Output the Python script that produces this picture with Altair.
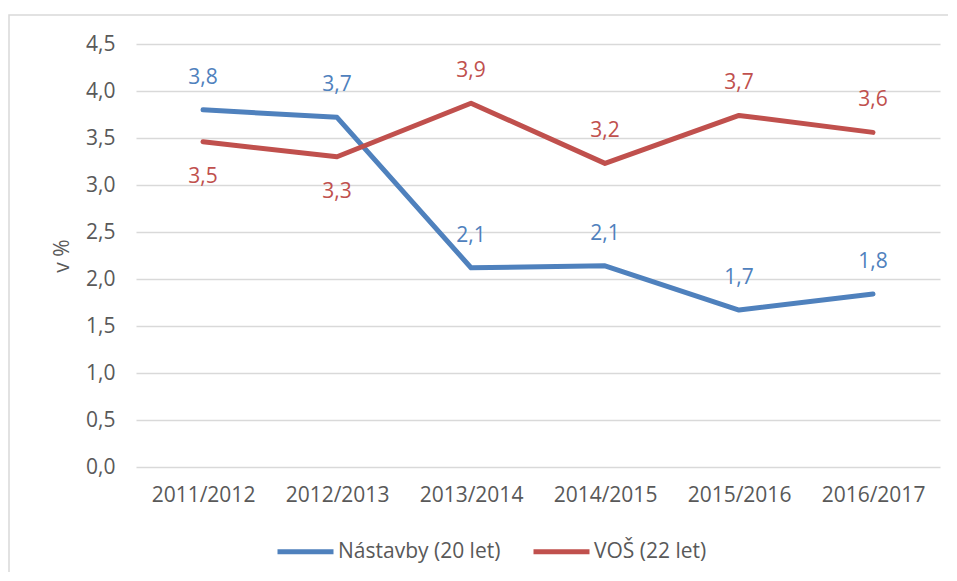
import altair as alt
import pandas as pd

years = ["2011/2012", "2012/2013", "2013/2014", "2014/2015", "2015/2016", "2016/2017"]
nastavby = [3.80, 3.72, 2.12, 2.14, 1.67, 1.84]
vos = [3.46, 3.30, 3.87, 3.23, 3.74, 3.56]
series_names = ["Nástavby (20 let)", "VOŠ (22 let)"]
vos_label_below = [True, True, False, False, False, False]
colors = ["#4F81BD", "#C0504D"]

rows = []
for i, yr in enumerate(years):
    rows.append(dict(year=yr, series=series_names[0], value=nastavby[i], below=False))
    rows.append(dict(year=yr, series=series_names[1], value=vos[i], below=vos_label_below[i]))
df = pd.DataFrame(rows)
df["label"] = df["value"].map(lambda v: f"{v:.1f}".replace(".", ","))

FONT = "Open Sans"
GRAY = "#595959"
FS = 21

color_scale = alt.Scale(domain=series_names, range=colors)
x_enc = alt.X("year:N", sort=years, scale=alt.Scale(type="point", padding=0.5),
              axis=alt.Axis(title=None, labelAngle=0, grid=False, ticks=False, domain=False,
                            labelPadding=17))
y_enc = alt.Y("value:Q", scale=alt.Scale(domain=[0, 4.5], nice=False),
              axis=alt.Axis(title="v %", values=[0, 0.5, 1, 1.5, 2, 2.5, 3, 3.5, 4, 4.5],
                            labelExpr="replace(format(datum.value, '.1f'), '.', ',')",
                            ticks=False, domain=False, labelPadding=21, titlePadding=13,
                            gridColor="#D9D9D9", gridWidth=1.5))

base = alt.Chart(df)

frame = alt.Chart(pd.DataFrame({"a": [0]})).mark_rect(
    fill=None, stroke="#D9D9D9", strokeWidth=1.5
).encode(x=alt.value(-127), x2=alt.value(900), y=alt.value(-29), y2=alt.value(700))

lines = base.mark_line(strokeWidth=5, strokeCap="round", strokeJoin="round").encode(
    x=x_enc, y=y_enc,
    color=alt.Color("series:N", scale=color_scale,
                    legend=alt.Legend(title=None, orient="none", legendX=139, legendY=477,
                                      direction="horizontal", symbolType="stroke",
                                      symbolSize=3136, symbolStrokeWidth=5,
                                      labelFont=FONT, labelFontSize=FS, labelColor=GRAY,
                                      labelLimit=400,
                                      columnPadding=22, labelOffset=2)),
    detail="series:N",
)

labels_above = base.transform_filter("!datum.below").mark_text(
    dy=-32, font=FONT, fontSize=FS
).encode(x=alt.X("year:N", sort=years), y="value:Q",
         text="label:N", color=alt.Color("series:N", scale=color_scale, legend=None))

labels_below = base.transform_filter("datum.below").mark_text(
    dy=35, font=FONT, fontSize=FS
).encode(x=alt.X("year:N", sort=years), y="value:Q",
         text="label:N", color=alt.Color("series:N", scale=color_scale, legend=None))

chart = alt.layer(frame, lines, labels_above, labels_below).properties(
    width=804, height=423,
    autosize=alt.AutoSizeParams(type="none"),
    padding={"left": 128, "top": 36, "right": 8, "bottom": 105},
).configure_view(stroke=None).configure_axis(
    labelFont=FONT, labelFontSize=FS, labelColor=GRAY,
    titleFont=FONT, titleFontSize=FS, titleColor=GRAY, titleFontWeight="normal",
)

chart.save("out.html", embed_options={"renderer": "svg", "actions": False})
